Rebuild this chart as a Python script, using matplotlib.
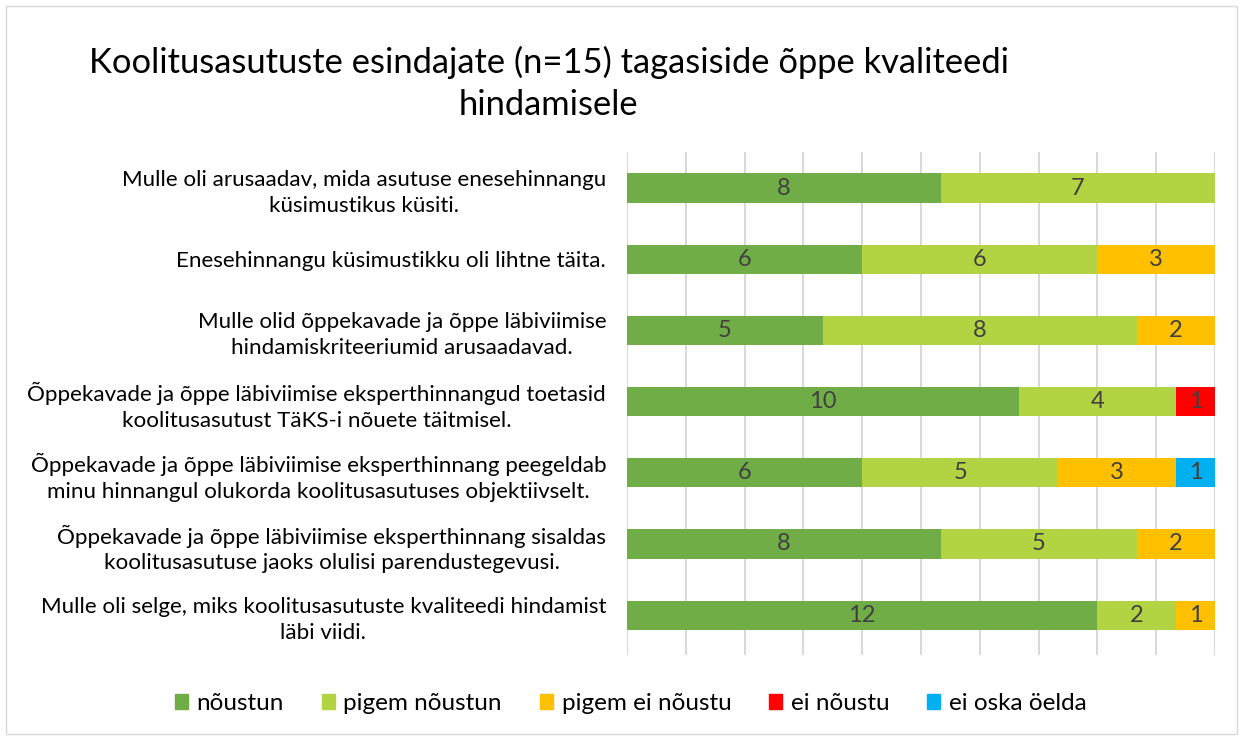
import matplotlib.pyplot as plt
import matplotlib.patches as mpatches
import numpy as np

plt.rcParams['font.family'] = ['Lato', 'DejaVu Sans']

title = "Koolitusasutuste esindajate (n=15) tagasiside õppe kvaliteedi\nhindamisele"

questions = [
    "Mulle oli arusaadav, mida asutuse enesehinnangu\nküsimustikus küsiti.",
    "Enesehinnangu küsimustikku oli lihtne täita.",
    "Mulle olid õppekavade ja õppe läbiviimise\nhindamiskriteeriumid arusaadavad.",
    "Õppekavade ja õppe läbiviimise eksperthinnangud toetasid\nkoolitusasutust TäKS-i nõuete täitmisel.",
    "Õppekavade ja õppe läbiviimise eksperthinnang peegeldab\nminu hinnangul olukorda koolitusasutuses objektiivselt.",
    "Õppekavade ja õppe läbiviimise eksperthinnang sisaldas\nkoolitusasutuse jaoks olulisi parendustegevusi.",
    "Mulle oli selge, miks koolitusasutuste kvaliteedi hindamist\nläbi viidi.",
]

categories = ["nõustun", "pigem nõustun", "pigem ei nõustu", "ei nõustu", "ei oska öelda"]
colors = ["#70AD47", "#B2D443", "#FFC000", "#FF0000", "#00B0F0"]

noustun = [8, 6, 5, 10, 6, 8, 12]
pigem_noustun = [7, 6, 8, 4, 5, 5, 2]
pigem_ei_noustu = [0, 3, 2, 0, 3, 2, 1]
ei_noustu = [0, 0, 0, 1, 0, 0, 0]
ei_oska = [0, 0, 0, 0, 1, 0, 0]


def main():
    series = np.array([noustun, pigem_noustun, pigem_ei_noustu, ei_noustu, ei_oska], dtype=float)
    totals = series.sum(axis=0)
    shares = series / totals * 100

    fig = plt.figure(figsize=(12.44, 7.40), dpi=100)
    ax = fig.add_axes([627 / 1244, 1 - 655 / 740, 588 / 1244, 503 / 740])

    y = np.arange(len(questions))
    left = np.zeros(len(questions))
    for i, cat in enumerate(categories):
        ax.barh(y, shares[i], left=left, height=0.41, color=colors[i], label=cat, zorder=2)
        for j in range(len(questions)):
            if series[i, j] > 0:
                ax.text(left[j] + shares[i, j] / 2, y[j], f"{int(series[i, j])}",
                        ha='center', va='center', fontsize=17, color='#404040', zorder=3)
        left += shares[i]

    ax.set_xlim(0, 100)
    ax.set_ylim(6.56, -0.506)
    ax.set_xticks(np.arange(0, 101, 10))
    ax.set_xticklabels([])
    ax.tick_params(axis='x', length=0)
    ax.tick_params(axis='y', length=0, pad=15)
    ax.grid(axis='x', color='#D9D9D9', linewidth=1.5, zorder=0)
    ax.set_yticks(y)
    ax.set_yticklabels(questions, fontsize=16.1, color='#000000',
                       multialignment='center', linespacing=1.35)
    for s in ax.spines.values():
        s.set_visible(False)

    fig.text(0.441, 0.887, title, ha='center', va='center', fontsize=24.8,
             multialignment='center', color='#000000', linespacing=1.4)

    handles = [mpatches.Patch(color=c, label=l) for c, l in zip(colors, categories)]
    fig.legend(handles=handles, loc='center', bbox_to_anchor=(0.507, 0.049), ncol=5,
               frameon=False, fontsize=17.5, handlelength=0.55, handleheight=0.55,
               handletextpad=0.35, columnspacing=1.55)

    fig.patches.append(mpatches.Rectangle((6 / 1244, 6 / 740), 1231 / 1244, 728 / 740,
                                          transform=fig.transFigure, fill=False,
                                          edgecolor='#D9D9D9', linewidth=1))

    fig.savefig("out.png", dpi=100)


if __name__ == '__main__':
    main()
